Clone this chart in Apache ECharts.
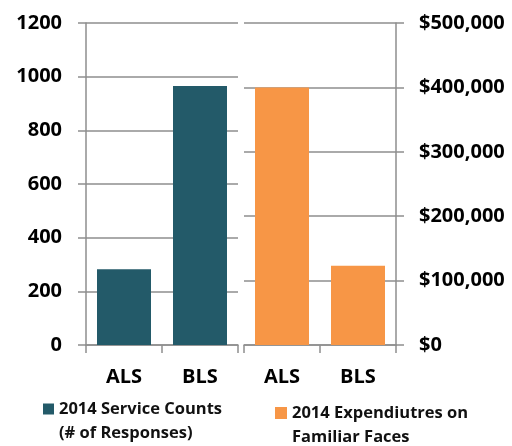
<!DOCTYPE html>
<html><head><meta charset="utf-8">
<script src="https://cdn.jsdelivr.net/npm/echarts@6/dist/echarts.min.js"></script>
<style>html,body{margin:0;padding:0;background:#fff}#c{width:512px;height:446px}</style>
</head><body><div id="c"></div>
<script>
const categories = ['ALS', 'BLS'];
const serviceCounts = [282, 965];
const expenditures = [400000, 123000];
const countTicks = {min: 0, max: 1200, interval: 200};
const moneyTicks = {min: 0, max: 500000, interval: 100000};
const seriesNames = ['2014 Service Counts\n(# of Responses)', '2014 Expendiutres on\nFamiliar Faces'];

const FONT = 'Open Sans';
const GRID = '#8e8e8e';
const chart = echarts.init(document.getElementById('c'));
const axisLineStyle = {show: true, lineStyle: {color: GRID, width: 1.5}};
const tickStyle = {show: true, length: 8, inside: false, lineStyle: {color: GRID, width: 1.5}};
const labelStyle = {color: '#000', fontFamily: FONT, fontWeight: 'bold', fontSize: 20};
const legendText = {color: '#111', fontFamily: FONT, fontWeight: 'bold', fontSize: 16.5, lineHeight: 24};

chart.setOption({
  animation: false,
  grid: [
    {left: 86, right: 274, top: 23, bottom: 101},
    {left: 244, right: 116, top: 23, bottom: 101}
  ],
  xAxis: [
    {type: 'category', gridIndex: 0, data: categories, axisLine: axisLineStyle, axisTick: tickStyle,
     axisLabel: Object.assign({margin: 22}, labelStyle)},
    {type: 'category', gridIndex: 1, data: categories, axisLine: axisLineStyle, axisTick: tickStyle,
     axisLabel: Object.assign({margin: 22}, labelStyle)}
  ],
  yAxis: [
    {type: 'value', gridIndex: 0, position: 'left', min: countTicks.min, max: countTicks.max, interval: countTicks.interval,
     axisLine: axisLineStyle, axisTick: tickStyle, splitLine: {show: true, lineStyle: {color: GRID, width: 1.5}},
     axisLabel: Object.assign({margin: 24, formatter: v => String(v)}, labelStyle)},
    {type: 'value', gridIndex: 1, position: 'right', min: moneyTicks.min, max: moneyTicks.max, interval: moneyTicks.interval,
     axisLine: axisLineStyle, axisTick: tickStyle, splitLine: {show: true, lineStyle: {color: GRID, width: 1.5}},
     axisLabel: Object.assign({margin: 23, formatter: v => '$' + v.toLocaleString('en-US')}, labelStyle)}
  ],
  legend: [
    {left: 43, top: 373, padding: 0, itemWidth: 11, itemHeight: 11, icon: 'rect', data: [seriesNames[0]],
     formatter: n => ' \n' + n, textStyle: legendText, selectedMode: false},
    {left: 275, top: 377, padding: 0, itemWidth: 12, itemHeight: 12, icon: 'rect', data: [seriesNames[1]],
     formatter: n => ' \n' + n, textStyle: legendText, selectedMode: false}
  ],
  series: [
    {name: seriesNames[0], type: 'bar', xAxisIndex: 0, yAxisIndex: 0, data: serviceCounts, barWidth: 54,
     itemStyle: {color: '#235a69'}},
    {name: seriesNames[1], type: 'bar', xAxisIndex: 1, yAxisIndex: 1, data: expenditures, barWidth: 54,
     itemStyle: {color: '#f79646'}}
  ]
});
</script></body></html>
